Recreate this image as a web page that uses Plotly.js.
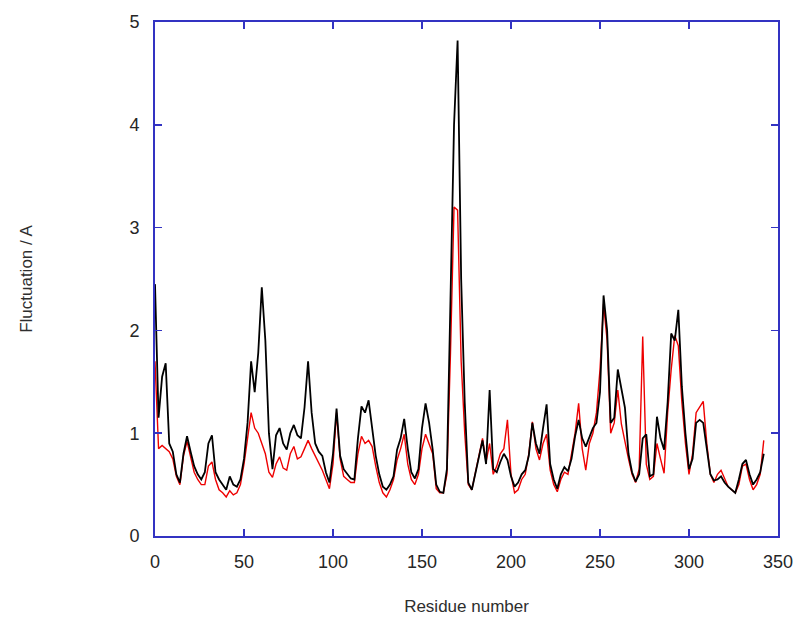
<!DOCTYPE html>
<html>
<head>
<meta charset="utf-8">
<script src="https://cdn.plot.ly/plotly-3.0.1.min.js"></script>
<style>html,body{margin:0;padding:0;background:#fff;}#chart{width:803px;height:626px;}</style>
</head>
<body>
<div id="chart"></div>
<script>
const residue = [0,2,4,6,8,10,12,14,16,18,20,22,24,26,28,30,32,34,36,38,40,42,44,46,48,50,52,54,56,58,60,62,64,66,68,70,72,74,76,78,80,82,84,86,88,90,92,94,96,98,100,102,104,106,108,110,112,114,116,118,120,122,124,126,128,130,132,134,136,138,140,142,144,146,148,150,152,154,156,158,160,162,164,166,168,170,172,174,176,178,180,182,184,186,188,190,192,194,196,198,200,202,204,206,208,210,212,214,216,218,220,222,224,226,228,230,232,234,236,238,240,242,244,246,248,250,252,254,256,258,260,262,264,266,268,270,272,274,276,278,280,282,284,286,288,290,292,294,296,298,300,302,304,306,308,310,312,314,316,318,320,322,324,326,328,330,332,334,336,338,340,342];

const fluctBlack = [2.45,1.15,1.55,1.68,0.9,0.82,0.6,0.52,0.8,0.97,0.82,0.68,0.6,0.55,0.62,0.9,0.98,0.62,0.55,0.5,0.45,0.58,0.5,0.48,0.55,0.75,1.1,1.7,1.4,1.78,2.42,1.9,1.0,0.65,0.98,1.05,0.9,0.84,1.0,1.08,0.98,0.95,1.25,1.7,1.2,0.9,0.82,0.78,0.62,0.52,0.8,1.24,0.78,0.65,0.6,0.56,0.55,0.95,1.26,1.2,1.32,1.06,0.78,0.6,0.48,0.45,0.5,0.58,0.84,0.95,1.14,0.85,0.62,0.56,0.65,1.05,1.29,1.1,0.84,0.5,0.43,0.42,0.65,2.3,4.0,4.82,2.5,1.3,0.52,0.45,0.6,0.75,0.93,0.7,1.42,0.65,0.62,0.72,0.8,0.74,0.58,0.48,0.52,0.6,0.64,0.78,1.1,0.9,0.8,1.05,1.28,0.7,0.55,0.46,0.6,0.67,0.63,0.75,0.97,1.13,0.95,0.87,0.97,1.05,1.1,1.4,2.34,2.0,1.1,1.15,1.62,1.45,1.25,0.8,0.62,0.53,0.6,0.95,0.99,0.58,0.6,1.16,0.95,0.84,1.3,1.97,1.9,2.2,1.45,1.0,0.65,0.75,1.1,1.13,1.1,0.85,0.6,0.54,0.55,0.58,0.52,0.48,0.45,0.42,0.55,0.7,0.74,0.6,0.5,0.55,0.62,0.8];

const fluctRed = [1.7,0.85,0.88,0.85,0.82,0.75,0.58,0.5,0.78,0.92,0.78,0.62,0.55,0.5,0.5,0.68,0.72,0.55,0.45,0.42,0.38,0.44,0.4,0.42,0.5,0.7,0.95,1.2,1.05,1.0,0.9,0.8,0.62,0.57,0.7,0.77,0.66,0.64,0.8,0.87,0.75,0.77,0.85,0.93,0.85,0.78,0.7,0.64,0.55,0.46,0.7,1.2,0.75,0.58,0.55,0.52,0.52,0.8,0.97,0.9,0.93,0.87,0.68,0.52,0.42,0.38,0.45,0.55,0.74,0.85,0.99,0.7,0.55,0.5,0.6,0.85,0.99,0.9,0.8,0.46,0.42,0.42,0.6,1.78,3.2,3.17,1.7,1.0,0.5,0.45,0.62,0.8,0.95,0.72,0.9,0.6,0.68,0.8,0.85,1.13,0.6,0.42,0.45,0.55,0.6,0.8,1.11,0.85,0.74,0.9,0.99,0.64,0.5,0.43,0.55,0.62,0.6,0.8,1.0,1.29,0.85,0.64,0.9,1.0,1.2,1.62,2.26,1.9,1.0,1.1,1.42,1.09,0.9,0.75,0.6,0.52,0.65,1.94,0.7,0.55,0.58,0.9,0.75,0.61,1.2,1.62,1.95,1.85,1.3,0.9,0.6,0.8,1.2,1.25,1.31,0.9,0.6,0.52,0.6,0.64,0.55,0.48,0.45,0.42,0.5,0.68,0.7,0.55,0.45,0.5,0.6,0.93];

const xTicks = [0,50,100,150,200,250,300,350];
const yTicks = [0,1,2,3,4,5];

const frameColor = '#3333c2';
const tickFont = {family: 'Liberation Sans, Arial, sans-serif', size: 18, color: '#262626'};
const titleFont = {family: 'Liberation Sans, Arial, sans-serif', size: 17, color: '#2e2e2e'};

const traces = [
  {x: residue, y: fluctRed, type: 'scatter', mode: 'lines', line: {color: '#ee0000', width: 1.4}, hoverinfo: 'skip'},
  {x: residue, y: fluctBlack, type: 'scatter', mode: 'lines', line: {color: '#000000', width: 1.8}, hoverinfo: 'skip'}
];

const layout = {
  width: 803, height: 626,
  margin: {l: 155, r: 25, t: 22, b: 90},
  paper_bgcolor: '#ffffff', plot_bgcolor: '#ffffff',
  showlegend: false,
  xaxis: {
    range: [0, 350], tickvals: xTicks, ticktext: xTicks.map(String),
    ticks: 'inside', ticklen: 7, tickwidth: 1.5, tickcolor: frameColor,
    showline: true, linecolor: frameColor, linewidth: 2, mirror: 'ticks',
    showgrid: false, zeroline: false, tickfont: tickFont, ticklabelstandoff: 8,
    title: {text: 'Residue number', font: titleFont, standoff: 30}
  },
  yaxis: {
    range: [0, 5], tickvals: yTicks, ticktext: yTicks.map(String),
    ticks: 'inside', ticklen: 7, tickwidth: 1.5, tickcolor: frameColor,
    showline: true, linecolor: frameColor, linewidth: 2, mirror: 'ticks',
    showgrid: false, zeroline: false, tickfont: tickFont, ticklabelstandoff: 10,
    title: {text: 'Fluctuation / A', font: titleFont, standoff: 92}
  }
};

Plotly.newPlot('chart', traces, layout, {displayModeBar: false, staticPlot: true});
</script>
</body>
</html>
